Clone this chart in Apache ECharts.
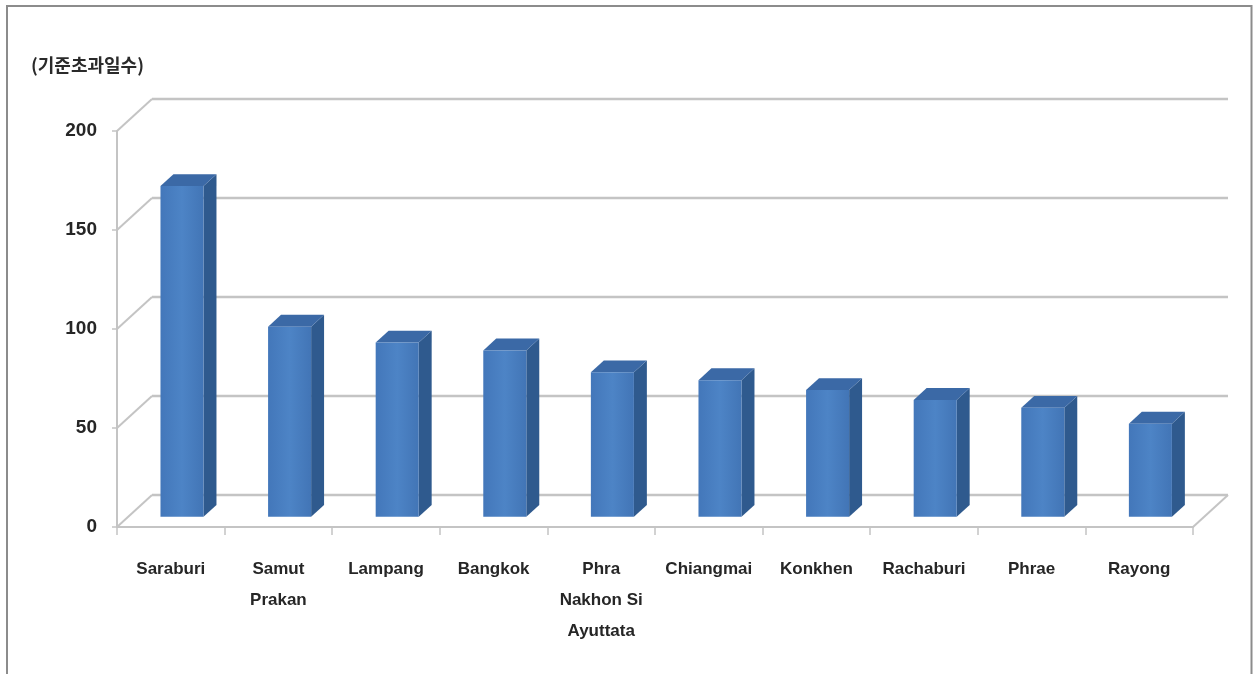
<!DOCTYPE html>
<html>
<head>
<meta charset="utf-8">
<script src="https://cdn.jsdelivr.net/npm/echarts@6/dist/echarts.min.js"></script>
<style>
html,body{margin:0;padding:0;background:#fff;}
#chart{width:1254px;height:674px;}
</style>
</head>
<body>
<div id="chart"></div>
<script>
// ---- data ----
const categories = ['Saraburi', 'Samut\nPrakan', 'Lampang', 'Bangkok', 'Phra\nNakhon Si\nAyuttata', 'Chiangmai', 'Konkhen', 'Rachaburi', 'Phrae', 'Rayong'];
const values = [167, 96, 88, 84, 73, 69, 64, 59, 55, 47];
const yTicks = [0, 50, 100, 150, 200];
const unitTitle = '(기준초과일수)';

// ---- layout (3D depth offset of the back wall) ----
const DX = 35, DY = -32;
const F1 = 0.32, F2 = 0.69;
const GRID_COLOR = '#c4c4c4';

const chart = echarts.init(document.getElementById('chart'));

function renderWall(params, api) {
  const v = api.value(1);
  const cs = params.coordSys;
  const y = api.coord([0, v])[1];
  const xl = cs.x, xr = cs.x + cs.width;
  const children = [
    { type: 'line', shape: { x1: xl, y1: y, x2: xl + DX, y2: y + DY }, style: { stroke: GRID_COLOR, lineWidth: 2 } },
    { type: 'line', shape: { x1: xl + DX, y1: y + DY, x2: xr + DX, y2: y + DY }, style: { stroke: GRID_COLOR, lineWidth: 2.5 } }
  ];
  if (v === 0) {
    children.push({ type: 'line', shape: { x1: xr, y1: y, x2: xr + DX, y2: y + DY }, style: { stroke: GRID_COLOR, lineWidth: 2 } });
  }
  return { type: 'group', children };
}

function renderBar(params, api) {
  const i = api.value(0), v = api.value(1);
  const p = api.coord([i, v]);
  const b = api.coord([i, 0]);
  const bw = api.size([1, 0])[0];
  const w = bw * 0.40;
  const x0 = p[0] - w / 2 + DX * F1, x1 = x0 + w;
  const yTop = p[1] + DY * F1, yBot = b[1] + DY * F1;
  const ddx = DX * (F2 - F1), ddy = DY * (F2 - F1);
  return {
    type: 'group',
    children: [
      { type: 'polygon', shape: { points: [[x1, yTop], [x1 + ddx, yTop + ddy], [x1 + ddx, yBot + ddy], [x1, yBot]] },
        style: { fill: '#2f5a8e' } },
      { type: 'polygon', shape: { points: [[x0, yTop], [x0 + ddx, yTop + ddy], [x1 + ddx, yTop + ddy], [x1, yTop]] },
        style: { fill: '#3b69a6' } },
      { type: 'rect', shape: { x: x0, y: yTop, width: w, height: yBot - yTop },
        style: { fill: new echarts.graphic.LinearGradient(0, 0, 1, 0, [
          { offset: 0, color: '#4377ba' }, { offset: 0.5, color: '#4d84c6' }, { offset: 1, color: '#4275b6' }]) } }
    ]
  };
}

const option = {
  backgroundColor: '#ffffff',
  animation: false,
  title: {
    text: unitTitle,
    left: 26, top: 51,
    textStyle: { fontFamily: 'Noto Sans CJK KR', fontSize: 18, fontWeight: 'bold', color: '#2a2a2a' }
  },
  graphic: [
    { type: 'rect', shape: { x: 7, y: 6, width: 1244.5, height: 720 },
      style: { fill: 'none', stroke: '#8c8c8c', lineWidth: 2 }, silent: true }
  ],
  grid: { left: 117, top: 131, width: 1076, height: 396, containLabel: false },
  xAxis: {
    type: 'category',
    data: categories,
    boundaryGap: true,
    axisLine: { show: true, lineStyle: { color: GRID_COLOR, width: 2 } },
    axisTick: { show: true, interval: 0, length: 8, lineStyle: { color: GRID_COLOR, width: 1.5 } },
    axisLabel: {
      interval: 0, margin: 27,
      fontFamily: 'Liberation Sans', fontWeight: 'bold', fontSize: 17,
      color: '#262626', lineHeight: 31
    },
    splitLine: { show: false }
  },
  yAxis: {
    type: 'value',
    min: 0, max: 200, interval: 50,
    axisLine: { show: true, lineStyle: { color: GRID_COLOR, width: 2 } },
    axisTick: { show: true, length: 5, lineStyle: { color: GRID_COLOR, width: 1.5 } },
    axisLabel: {
      margin: 20,
      fontFamily: 'Liberation Sans', fontWeight: 'bold', fontSize: 19,
      color: '#262626'
    },
    splitLine: { show: false }
  },
  series: [
    {
      type: 'custom',
      name: 'walls',
      renderItem: renderWall,
      data: yTicks.map(v => [0, v]),
      clip: false,
      silent: true,
      z: 1
    },
    {
      type: 'custom',
      name: 'bars',
      renderItem: renderBar,
      data: values.map((v, i) => [i, v]),
      clip: false,
      z: 3
    }
  ]
};

chart.setOption(option);
</script>
</body>
</html>
